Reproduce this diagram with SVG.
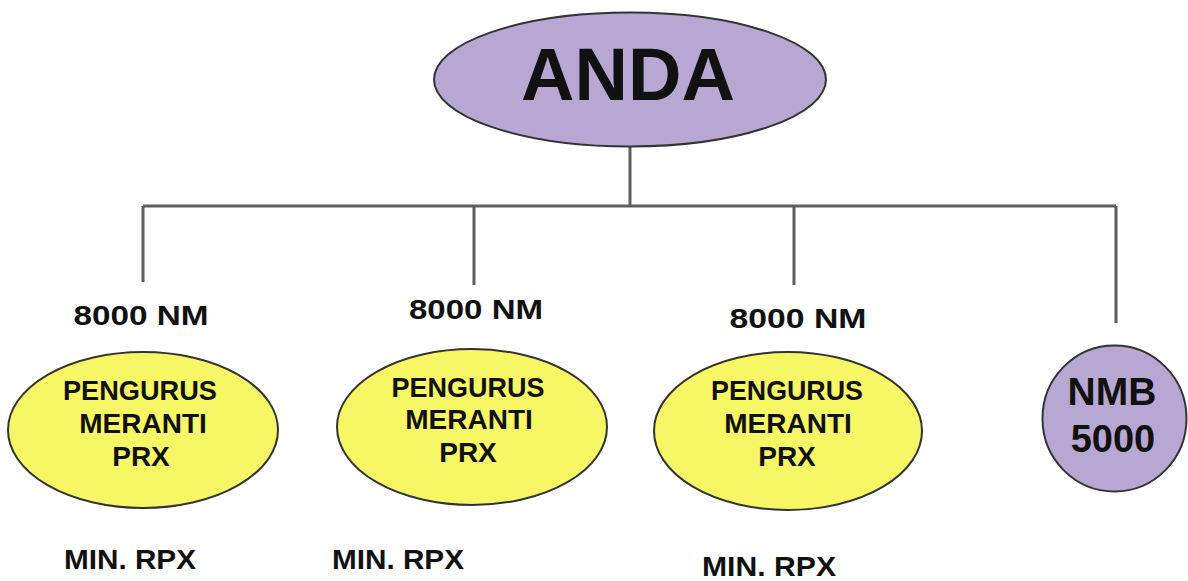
<svg xmlns="http://www.w3.org/2000/svg" width="1188" height="581" viewBox="0 0 1188 581">
<style>
.t{font-family:"Liberation Sans",Arial,sans-serif;font-weight:bold;fill:#111;text-anchor:middle}
.p{fill:#B6A8D3;stroke:#333;stroke-width:2}
.y{fill:#F7F766;stroke:#333;stroke-width:2}
.c{fill:none;stroke:#5e5e5e;stroke-width:3}
</style>
<rect width="1188" height="581" fill="#fff"/>
<g id="connectors">
<path class="c" d="M630 147V207M143 206H1116M143 206V282M474 206V285M794 206V285M1116 206V323"/>
</g>
<g id="anda">
<ellipse class="p" cx="630" cy="79.5" rx="196" ry="67"/>
<text class="t" x="628" y="100" font-size="74">ANDA</text>
</g>
<g id="node1">
<text class="t" x="141" y="325" font-size="28" textLength="135" lengthAdjust="spacingAndGlyphs">8000 NM</text>
<ellipse class="y" cx="143" cy="430" rx="135" ry="78"/>
<text class="t" x="140" y="400" font-size="28" textLength="154" lengthAdjust="spacingAndGlyphs">PENGURUS</text>
<text class="t" x="143" y="433" font-size="28">MERANTI</text>
<text class="t" x="141" y="466" font-size="28">PRX</text>
<text class="t" x="130" y="569" font-size="28" textLength="132" lengthAdjust="spacingAndGlyphs">MIN. RPX</text>
</g>
<g id="node2">
<text class="t" x="476" y="319" font-size="28" textLength="134" lengthAdjust="spacingAndGlyphs">8000 NM</text>
<ellipse class="y" cx="472" cy="427" rx="135" ry="78"/>
<text class="t" x="468" y="397" font-size="28" textLength="153" lengthAdjust="spacingAndGlyphs">PENGURUS</text>
<text class="t" x="469" y="429" font-size="28">MERANTI</text>
<text class="t" x="468" y="462" font-size="28">PRX</text>
<text class="t" x="398" y="569" font-size="28" textLength="132" lengthAdjust="spacingAndGlyphs">MIN. RPX</text>
</g>
<g id="node3">
<text class="t" x="798" y="328" font-size="28" textLength="137" lengthAdjust="spacingAndGlyphs">8000 NM</text>
<ellipse class="y" cx="788" cy="431" rx="134" ry="79"/>
<text class="t" x="787" y="400" font-size="28" textLength="152" lengthAdjust="spacingAndGlyphs">PENGURUS</text>
<text class="t" x="788" y="433" font-size="28">MERANTI</text>
<text class="t" x="787" y="466" font-size="28">PRX</text>
<text class="t" x="769" y="576" font-size="28" textLength="134" lengthAdjust="spacingAndGlyphs">MIN. RPX</text>
</g>
<g id="nmb">
<ellipse class="p" cx="1114.5" cy="418.5" rx="72" ry="73"/>
<text class="t" x="1112" y="405" font-size="39">NMB</text>
<text class="t" x="1113" y="452" font-size="38">5000</text>
</g>
</svg>
